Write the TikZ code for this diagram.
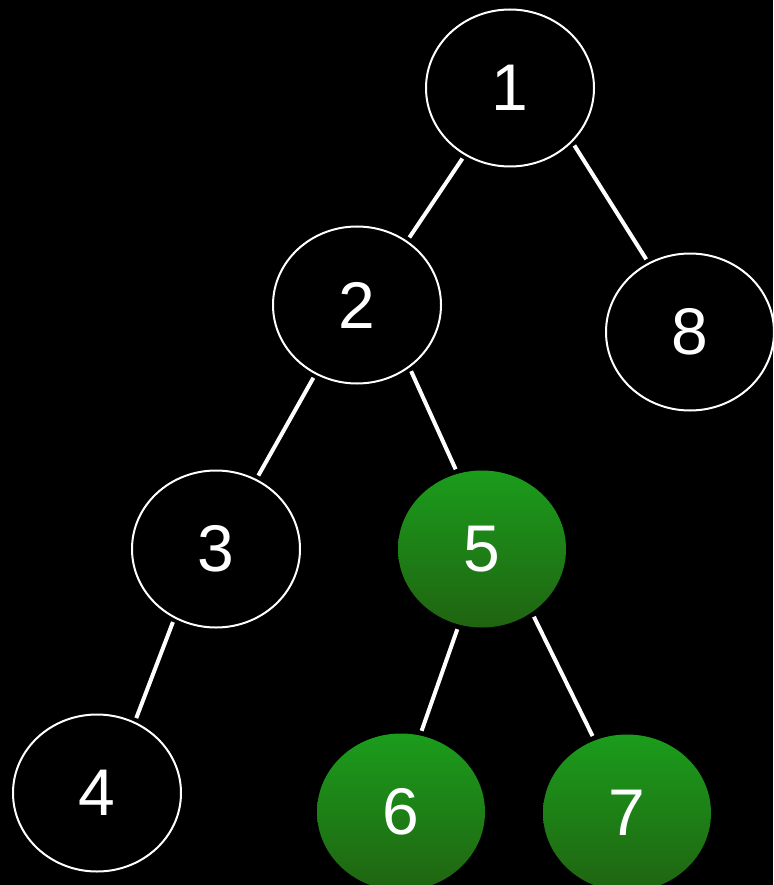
\documentclass[tikz,border=0pt]{standalone}
\usepackage{fontspec}
\setmainfont{Liberation Sans}
\usetikzlibrary{shapes.geometric}
\definecolor{gtop}{RGB}{27,156,28}
\definecolor{gbot}{RGB}{32,100,17}
\tikzset{
  tnode/.style={ellipse, draw=white, line width=2pt, minimum width=168pt, minimum height=157pt, inner sep=0pt, text=white, font=\fontsize{66}{70}\selectfont},
  plain/.style={tnode, fill=black},
  hl/.style={tnode, draw=none, top color=gtop, bottom color=gbot},
  edge/.style={draw=white, line width=4pt, shorten <=4pt, shorten >=4pt}
}
\begin{document}
\begin{tikzpicture}[x=1pt,y=-1pt]
\fill[black] (0,0) rectangle (773,885);
\useasboundingbox (0,0) rectangle (773,885);
\node[plain] (n1) at (510,88) {1};
\node[plain] (n2) at (357,305) {2};
\node[plain] (n8) at (690,332) {8};
\node[plain] (n3) at (216,549) {3};
\node[hl] (n5) at (482,549) {5};
\node[plain] (n4) at (97,793) {4};
\node[hl] (n6) at (401,812) {6};
\node[hl] (n7) at (627,813) {7};
\draw[edge] (n1.-124) -- (n2.52);
\draw[edge] (n1.-41) -- (n8.121);
\draw[edge] (n2.-121) -- (n3.60);
\draw[edge] (n2.-50) -- (n5.108);
\draw[edge] (n3.-121) -- (n4.62);
\draw[edge] (n5.-107) -- (n6.76);
\draw[edge] (n5.-52) -- (n7.114);
\end{tikzpicture}
\end{document}
